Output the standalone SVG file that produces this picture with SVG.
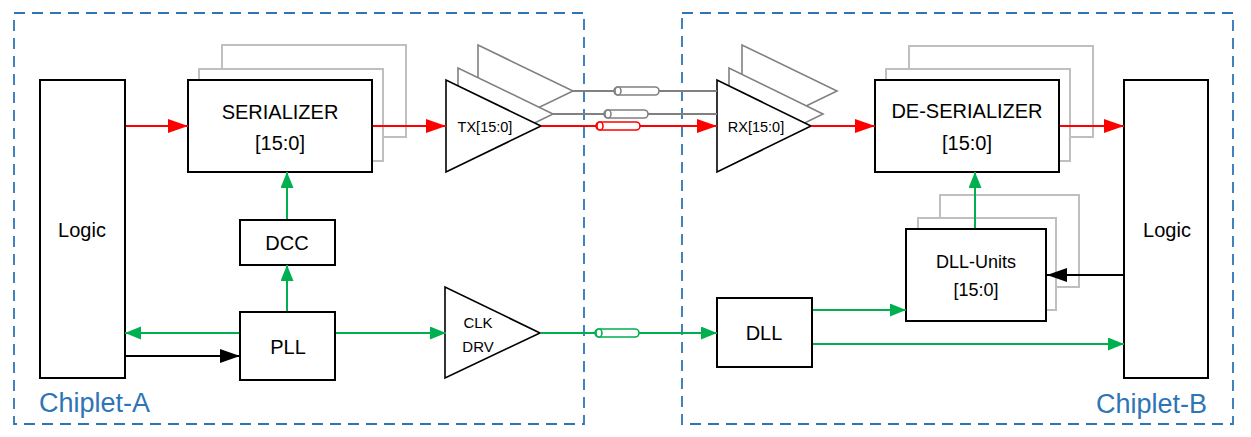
<svg xmlns="http://www.w3.org/2000/svg" width="1251" height="437" viewBox="0 0 1251 437">
<style>
.box{fill:#fff;stroke:#000;stroke-width:2}
.ghost{fill:#fff;stroke:#BFBFBF;stroke-width:2}
.gtri{fill:#fff;stroke:#808080;stroke-width:1.6}
.tri{fill:#fff;stroke:#000;stroke-width:1.6}
.dash{fill:none;stroke:#2E75B6;stroke-width:1.8;stroke-dasharray:11 7}
.t{font-family:"Liberation Sans",Arial,sans-serif;fill:#000;text-anchor:middle;dominant-baseline:central}
.lbl{font-family:"Liberation Sans",Arial,sans-serif;fill:#2E75B6;font-size:27px}
.red{stroke:#FF0000;stroke-width:2;fill:none}
.grn{stroke:#00B050;stroke-width:2;fill:none}
.blk{stroke:#000;stroke-width:2;fill:none}
.gry{stroke:#808080;stroke-width:2;fill:none}
</style>
<defs>
<marker id="ar" markerUnits="userSpaceOnUse" markerWidth="22" markerHeight="16" refX="20" refY="7" orient="auto"><path d="M0,0 L20,7 L0,14 z" fill="#FF0000"/></marker>
<marker id="ag" markerUnits="userSpaceOnUse" markerWidth="18" markerHeight="14" refX="16" refY="6.5" orient="auto"><path d="M0,0 L16,6.5 L0,13 z" fill="#00B050"/></marker>
<marker id="ab" markerUnits="userSpaceOnUse" markerWidth="22" markerHeight="16" refX="20" refY="7" orient="auto"><path d="M0,0 L20,7 L0,14 z" fill="#000"/></marker>
</defs>
<rect width="1251" height="437" fill="#fff"/>
<g id="chiplet-a-frame"><rect class="dash" x="14" y="13" width="570" height="411"/><text class="lbl" x="39" y="412">Chiplet-A</text></g>
<g id="chiplet-b-frame"><rect class="dash" x="682" y="13" width="551" height="411"/><text class="lbl" x="1096" y="413">Chiplet-B</text></g>

<g id="logic-a"><rect class="box" x="40" y="80" width="85" height="298"/><text class="t" x="82" y="230" font-size="20">Logic</text></g>
<g id="serializer">
<rect class="ghost" x="222" y="45" width="184" height="92"/>
<rect class="ghost" x="199" y="69" width="184" height="92"/>
<rect class="box" x="188" y="80" width="184" height="92"/>
<text class="t" x="280" y="112" font-size="20">SERIALIZER</text><text class="t" x="280" y="143" font-size="20">[15:0]</text>
</g>
<g id="tx">
<polygon class="gtri" points="478,45 478,137 573,91"/>
<polygon class="gtri" points="458,68 458,160 553,114"/>
<polygon class="tri" points="446,80 446,172 541,126"/>
<text class="t" x="485" y="127" font-size="14.5">TX[15:0]</text>
</g>
<g id="dcc"><rect class="box" x="240" y="220" width="95" height="45"/><text class="t" x="287" y="243" font-size="20">DCC</text></g>
<g id="pll"><rect class="box" x="240" y="312" width="95" height="68"/><text class="t" x="288" y="347" font-size="20">PLL</text></g>
<g id="clkdrv">
<polygon class="tri" points="445,287 445,378 540,333"/>
<text class="t" x="478" y="322" font-size="15">CLK</text><text class="t" x="478" y="346" font-size="15">DRV</text>
</g>
<g id="rx">
<polygon class="gtri" points="742,45 742,137 837,91"/>
<polygon class="gtri" points="729,68 729,160 823,114"/>
<polygon class="tri" points="717,80 717,172 811,126"/>
<text class="t" x="756" y="127" font-size="14.5">RX[15:0]</text>
</g>
<g id="deserializer">
<rect class="ghost" x="909" y="46" width="184" height="91"/>
<rect class="ghost" x="886" y="69" width="184" height="92"/>
<rect class="box" x="875" y="80" width="184" height="92"/>
<text class="t" x="967" y="111" font-size="20">DE-SERIALIZER</text><text class="t" x="967" y="143" font-size="20">[15:0]</text>
</g>
<g id="dll-units">
<rect class="ghost" x="940" y="195" width="139" height="92"/>
<rect class="ghost" x="918" y="218" width="138" height="92"/>
<rect class="box" x="906" y="229" width="140" height="92"/>
<text class="t" x="976" y="262" font-size="18">DLL-Units</text><text class="t" x="976" y="290" font-size="18">[15:0]</text>
</g>
<g id="dll"><rect class="box" x="717" y="298" width="95" height="69"/><text class="t" x="764" y="333" font-size="20">DLL</text></g>
<g id="logic-b"><rect class="box" x="1124" y="80" width="84" height="298"/><text class="t" x="1167" y="230" font-size="20">Logic</text></g>

<g id="connectors">
<line class="gry" x1="573" y1="91" x2="717" y2="91"/>
<line class="gry" x1="553" y1="114" x2="717" y2="114"/>
<line class="red" x1="126" y1="126" x2="188" y2="126" marker-end="url(#ar)"/>
<line class="red" x1="373" y1="126" x2="446" y2="126" marker-end="url(#ar)"/>
<line class="red" x1="541" y1="126" x2="717" y2="126" marker-end="url(#ar)"/>
<line class="red" x1="811" y1="126" x2="875" y2="126" marker-end="url(#ar)"/>
<line class="red" x1="1060" y1="126" x2="1124" y2="126" marker-end="url(#ar)"/>
<line class="grn" x1="287" y1="219" x2="287" y2="172" marker-end="url(#ag)"/>
<line class="grn" x1="287" y1="311" x2="287" y2="265" marker-end="url(#ag)"/>
<line class="grn" x1="239" y1="333" x2="125" y2="333" marker-end="url(#ag)"/>
<line class="blk" x1="126" y1="356" x2="240" y2="356" marker-end="url(#ab)"/>
<line class="grn" x1="336" y1="333" x2="446" y2="333" marker-end="url(#ag)"/>
<line class="grn" x1="541" y1="333" x2="717" y2="333" marker-end="url(#ag)"/>
<line class="grn" x1="813" y1="310" x2="906" y2="310" marker-end="url(#ag)"/>
<line class="grn" x1="813" y1="344" x2="1124" y2="344" marker-end="url(#ag)"/>
<line class="grn" x1="975" y1="228" x2="975" y2="172" marker-end="url(#ag)"/>
<line class="blk" x1="1123" y1="275" x2="1047" y2="275" marker-end="url(#ab)"/>
<g id="tlines">
<rect x="614" y="87" width="45" height="8" rx="4" fill="#fff" stroke="#808080" stroke-width="1.6"/><ellipse cx="618" cy="91" rx="3" ry="4" fill="#fff" stroke="#808080" stroke-width="1.6"/>
<rect x="604" y="110" width="44" height="8" rx="4" fill="#fff" stroke="#808080" stroke-width="1.6"/><ellipse cx="608" cy="114" rx="3" ry="4" fill="#fff" stroke="#808080" stroke-width="1.6"/>
<rect x="596" y="122" width="44" height="8" rx="4" fill="#fff" stroke="#FF0000" stroke-width="1.6"/><ellipse cx="600" cy="126" rx="3" ry="4" fill="#fff" stroke="#FF0000" stroke-width="1.6"/>
<rect x="595" y="329" width="44" height="8" rx="4" fill="#fff" stroke="#00B050" stroke-width="1.6"/><ellipse cx="599" cy="333" rx="3" ry="4" fill="#fff" stroke="#00B050" stroke-width="1.6"/>
</g>
</g>
</svg>
